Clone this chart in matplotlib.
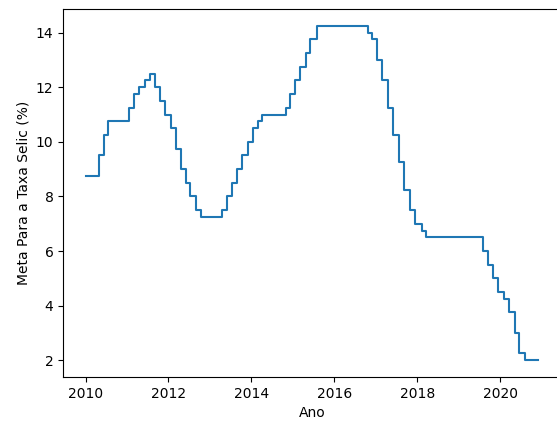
import matplotlib
matplotlib.use("Agg")
import matplotlib.pyplot as plt
import pandas as pd

# datas das decisões do Copom e a meta resultante (% a.a.)
datas = [
    "2010-01-04", "2010-04-29", "2010-06-10", "2010-07-22",
    "2011-01-20", "2011-03-03", "2011-04-21", "2011-06-09", "2011-07-21",
    "2011-09-01", "2011-10-20", "2011-12-01",
    "2012-01-19", "2012-03-08", "2012-04-19", "2012-05-31", "2012-07-12",
    "2012-08-30", "2012-10-11",
    "2013-04-18", "2013-05-30", "2013-07-11", "2013-08-29", "2013-10-10",
    "2013-11-28",
    "2014-01-16", "2014-02-27", "2014-04-03", "2014-10-30", "2014-12-04",
    "2015-01-22", "2015-03-05", "2015-04-30", "2015-06-04", "2015-07-30",
    "2016-10-20", "2016-12-01",
    "2017-01-12", "2017-02-23", "2017-04-13", "2017-06-01", "2017-07-27",
    "2017-09-07", "2017-10-26", "2017-12-07",
    "2018-02-08", "2018-03-22",
    "2019-08-01", "2019-09-19", "2019-10-31", "2019-12-12",
    "2020-02-06", "2020-03-19", "2020-05-07", "2020-06-18", "2020-08-06",
    "2020-12-01",
]
meta = [
    8.75, 9.50, 10.25, 10.75,
    11.25, 11.75, 12.00, 12.25, 12.50,
    12.00, 11.50, 11.00,
    10.50, 9.75, 9.00, 8.50, 8.00,
    7.50, 7.25,
    7.50, 8.00, 8.50, 9.00, 9.50,
    10.00,
    10.50, 10.75, 11.00, 11.25, 11.75,
    12.25, 12.75, 13.25, 13.75, 14.25,
    14.00, 13.75,
    13.00, 12.25, 11.25, 10.25, 9.25,
    8.25, 7.50, 7.00,
    6.75, 6.50,
    6.00, 5.50, 5.00, 4.50,
    4.25, 3.75, 3.00, 2.25, 2.00,
    2.00,
]

selic = pd.DataFrame({"data": pd.to_datetime(datas), "meta": meta})

fig = plt.figure(figsize=(5.57, 4.21), dpi=100)
ax = fig.add_axes([0.1136, 0.1045, 0.8935, 0.874])
ax.plot(selic["data"], selic["meta"], drawstyle="steps-post", color="#1f77b4")
ax.set_xlabel("Ano")
ax.set_ylabel("Meta Para a Taxa Selic (%)")

fig.savefig("out.png", dpi=100)
